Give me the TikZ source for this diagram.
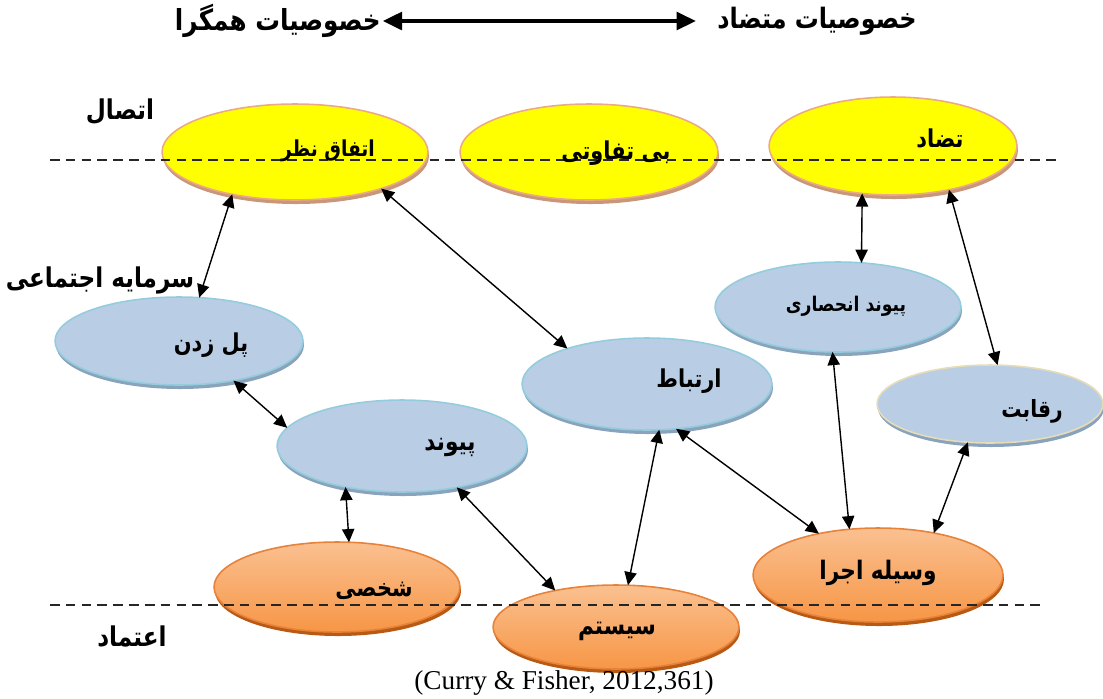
\documentclass[tikz,border=0pt]{standalone}
\usepackage{fontspec}
\setmainfont{Liberation Serif}
\newfontfamily\fa[Script=Arabic,FakeStretch=0.85]{DejaVu Sans}
\TeXXeTstate=1
\usetikzlibrary{arrows.meta,shapes.geometric}
\definecolor{yelF}{HTML}{FFFF00}
\definecolor{yelB}{HTML}{EBAA86}
\definecolor{yelR}{HTML}{C8967A}
\definecolor{bluF}{HTML}{B9CDE5}
\definecolor{bluB}{HTML}{93CDDD}
\definecolor{bluR}{HTML}{8AA3BC}
\definecolor{begB}{HTML}{E6DCB8}
\definecolor{orT}{HTML}{FAC090}
\definecolor{orB}{HTML}{F79646}
\definecolor{orE}{HTML}{E8823A}
\definecolor{orR}{HTML}{B85A14}
\newcommand\elnode[6]{%
  \fill[#6rim] (#2+1,#3+4) ellipse [x radius=#4*0.02cm, y radius=#5*0.02cm];
  \node[#6, minimum width=#4*0.04cm, minimum height=#5*0.04cm] (#1) at (#2,#3) {};}
\newcommand\fs[1]{\fa\bfseries\fontsize{#1}{#1}\selectfont}
\begin{document}
\begin{tikzpicture}[x=0.02cm,y=-0.02cm,
  base/.style={ellipse, inner sep=0pt, outer sep=0pt, line width=0.9pt},
  yel/.style={base, draw=yelB, fill=yelF},
  yelrim/.style={fill=yelR},
  blu/.style={base, draw=bluB, fill=bluF},
  blurim/.style={fill=bluR},
  beg/.style={base, draw=begB, fill=bluF},
  begrim/.style={fill=bluR},
  ora/.style={base, draw=orE, top color=orT, bottom color=orB},
  orarim/.style={fill=orR},
  lab/.style={inner sep=0pt},
  dline/.style={dashed, dash pattern=on 5.5pt off 3.5pt, line width=1.1pt, black!85},
  link/.style={line width=0.8pt, {Triangle[length=7.5pt,width=7pt]}-{Triangle[length=7.5pt,width=7pt]}}
]
\useasboundingbox (0,0) rectangle (1103,698);

% ellipses
\elnode{eNazar}{295}{152}{133}{48}{yel}
\elnode{eBitafavoti}{589}{152}{129}{48}{yel}
\elnode{eTazad}{893}{146}{124}{49}{yel}
\elnode{ePol}{179}{341}{124}{44}{blu}
\elnode{eEnhesari}{838}{307}{123}{45}{blu}
\elnode{eErtebat}{647}{384}{125}{46}{blu}
\elnode{eReghabat}{990}{404}{113}{39}{beg}
\elnode{ePeyvand}{402}{446}{125}{46}{blu}
\elnode{eShakhsi}{337}{587}{123}{45}{ora}
\elnode{eVasileh}{878}{575}{125}{47}{ora}
\elnode{eSystem}{616}{627}{123}{42}{ora}

% dashed levels
\draw[dline] (50,160) -- (1060,160);
\draw[dline] (50,605) -- (1045,605);

% texts in ellipses
\node[lab, font=\fs{12.5}] (tNazar) at (328,151) {\beginR اتفاق نظر\endR};
\node[lab, font=\fs{14}] (tBitafavoti) at (616,153) {\beginR بی تفاوتی\endR};
\node[lab, font=\fs{14}] (tTazad) at (940,138) {\beginR تضاد\endR};
\node[lab, font=\fs{14}] (tPol) at (211,345) {\beginR پل زدن\endR};
\node[lab, font=\fs{11.5}] (tEnhesari) at (846,306) {\beginR پیوند انحصاری\endR};
\node[lab, font=\fs{14}] (tErtebat) at (689,381) {\beginR ارتباط\endR};
\node[lab, font=\fs{13.5}] (tReghabat) at (1032,411) {\beginR رقابت\endR};
\node[lab, font=\fs{14.5}] (tPeyvand) at (450,447) {\beginR پیوند\endR};
\node[lab, font=\fs{14}] (tShakhsi) at (374,591) {\beginR شخصی\endR};
\node[lab, font=\fs{14.5}] (tVasileh) at (878,573) {\beginR وسیله اجرا\endR};
\node[lab, font=\fs{14.5}] (tSystem) at (617,631) {\beginR سیستم\endR};

% side labels
\node[lab, font=\fs{15.5}] (sEtesal) at (120,112) {\beginR اتصال\endR};
\node[lab, font=\fs{15.5}] (sSarmayeh) at (100,280) {\beginR سرمایه اجتماعی\endR};
\node[lab, font=\fs{15.5}] (sEtemad) at (132,637) {\beginR اعتماد\endR};

% title
\node[lab, font=\fs{16.5}, anchor=east] (titL) at (381,21) {\beginR خصوصیات همگرا\endR};
\node[lab, font=\fs{16}, anchor=west] (titR) at (717,21) {\beginR خصوصیات متضاد\endR};
\draw[line width=2.3pt, {Triangle[length=11pt,width=10pt]}-{Triangle[length=11pt,width=10pt]}, shorten <=1pt, shorten >=12pt] (titL.east) -- (titR.west);

% caption
\node[inner sep=0pt, font=\fontsize{15.5}{17}\selectfont] (cap) at (564,683) {(Curry \& Fisher, 2012,361)};

% links
\draw[link] (eNazar.214.7) -- (ePol.65.5);
\draw[link] (eNazar.337) -- (eErtebat.156.4);
\draw[link] (eTazad.237.1) -- (eEnhesari.62.4);
\draw[link] (eTazad.322.7) -- (eReghabat.79);
\draw[link] (ePol.324) -- (ePeyvand.171.6);
\draw[link] (ePeyvand.216.3) -- (eShakhsi.75.3);
\draw[link] (ePeyvand.323.3) -- (eSystem.149.6);
\draw[link] (eErtebat.285.2) -- (eSystem.74);
\draw[link] (eErtebat.303.1) -- (eVasileh.145.3);
\draw[link] (eEnhesari.263.7) -- (eVasileh.122.6);
\draw[link] (eReghabat.240.4) -- (eVasileh.37);
\end{tikzpicture}
\end{document}
